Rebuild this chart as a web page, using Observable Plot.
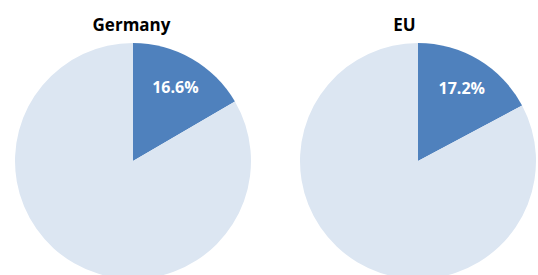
<!DOCTYPE html>
<html><head><meta charset="utf-8">
<script src="https://cdn.jsdelivr.net/npm/d3@7"></script>
<script src="https://cdn.jsdelivr.net/npm/@observablehq/plot@0.6"></script>
<style>body{margin:0;background:#fff}svg{display:block}</style>
</head><body><div id="chart"></div>
<script>
const regions = ["Germany", "EU"];
const shares = [16.6, 17.2];
const labels = ["16.6%", "17.2%"];

const data = regions.map((r, i) => ({region: r, share: shares[i], label: labels[i]}));
const R = 118, CY = 161;

function pies(index, scales, values, dimensions) {
  const g = d3.create("svg:g");
  const arc = d3.arc().innerRadius(0).outerRadius(R);
  for (const d of data) {
    const cx = scales.x(d.region);
    const slices = d3.pie().sort(null).value(v => v)([d.share, 100 - d.share]);
    const gg = g.append("g").attr("transform", `translate(${cx},${CY})`);
    gg.selectAll("path").data(slices).join("path")
      .attr("d", arc)
      .attr("fill", (s, i) => i === 0 ? "#4F81BD" : "#DCE6F2");
    const lab = d3.arc().innerRadius(170).outerRadius(0).centroid(slices[0]);
    gg.append("text")
      .attr("x", lab[0]).attr("y", lab[1])
      .attr("text-anchor", "middle").attr("dominant-baseline", "central")
      .attr("fill", "white").attr("font-weight", "bold").attr("font-size", 16)
      .attr("font-family", "'Open Sans', sans-serif")
      .text(d.label);
  }
  return g.node();
}

const chart = Plot.plot({
  width: 538, height: 275,
  marginTop: 0, marginRight: 0, marginBottom: 0, marginLeft: 0,
  style: {fontFamily: "'Open Sans', sans-serif", background: "white"},
  x: {type: "point", domain: regions, range: [133, 418], padding: 0, axis: null},
  y: {domain: [0, 275], range: [0, 275], axis: null},
  marks: [
    pies,
    Plot.text(data.filter(d => d.region === "Germany"), {
      x: "region", y: () => 25, text: "region", dx: -2,
      fontWeight: "bold", fontSize: 17, fill: "black"
    }),
    Plot.text(data.filter(d => d.region === "EU"), {
      x: "region", y: () => 25, text: "region", dx: -14,
      fontWeight: "bold", fontSize: 17, fill: "black"
    })
  ]
});
document.getElementById("chart").append(chart);
</script>
</body></html>
